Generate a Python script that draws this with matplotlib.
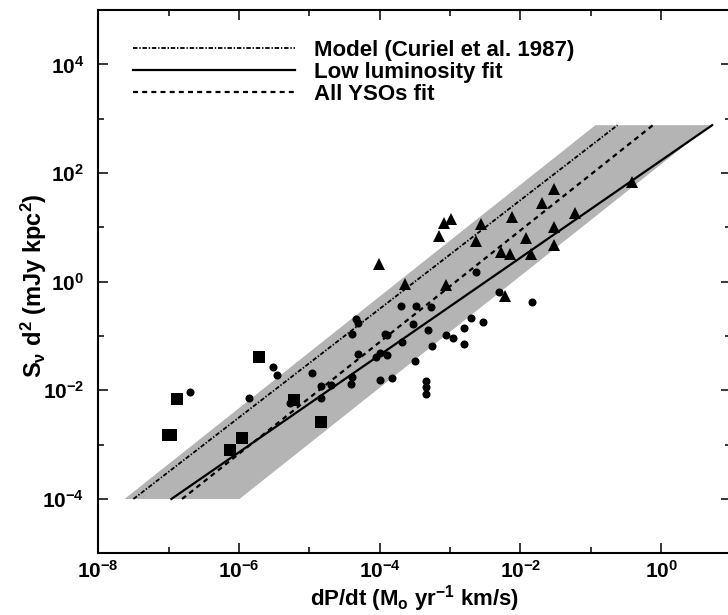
import numpy as np
import matplotlib
matplotlib.use('Agg')
import matplotlib.pyplot as plt
from matplotlib.ticker import FixedLocator, FuncFormatter, NullFormatter

# data, stored as log10 values
circle_logx = [-4.955, -4.827, -4.699, -4.827, -4.401, -4.392, -4.392, -4.339, -4.307, -4.307,
               -4.055, -3.999, -3.889, -3.999, -3.818, -3.918, -3.895, -3.700, -3.676, -3.526,
               -3.491, -3.487, -3.312, -3.274, -3.250, -3.345, -3.345, -3.345, -3.051, -2.957,
               -2.801, -2.801, -2.696, -2.531, -2.625, -2.304, -1.830, -6.697, -5.523, -5.466,
               -5.855, -5.277]
circle_logy = [-1.685, -1.919, -1.901, -2.134, -1.888, -1.753, -0.956, -0.691, -0.753, -1.335,
               -1.385, -1.306, -1.348, -1.814, -1.766, -0.956, -0.980, -0.446, -1.103, -0.772,
               -1.459, -0.446, -0.882, -0.464, -1.182, -1.827, -1.937, -2.061, -0.985, -1.029,
               -0.856, -1.140, -0.672, -0.735, 0.186, -0.182, -0.372, -2.029, -1.564, -1.716,
               -2.134, -2.238]

square_logx = [-5.717, -6.886, -7.003, -6.960, -5.955, -6.129, -5.220, -4.827]
square_logy = [-1.379, -2.153, -2.827, -2.827, -2.882, -3.098, -2.177, -2.576]

triangle_logx = [-4.009, -3.643, -3.061, -3.156, -3.089, -2.990, -2.554, -2.114, -1.523, -1.687,
                 -1.229, -0.409, -2.625, -1.925, -1.523, -2.270, -2.152, -1.854, -1.523, -2.223]
triangle_logy = [0.333, -0.046, -0.064, 0.843, 1.083, 1.157, 1.070, 1.193, 1.704, 1.457,
                 1.273, 1.843, 0.751, 0.801, 1.009, 0.554, 0.517, 0.506, 0.672, -0.262]

# fits: log S d^2 = a + b log dP/dt
model_fit = (3.5, 1.0)       # Curiel et al. 1987
lowlum_fit = (2.23, 0.895)
all_fit = (3.0, 1.028)
band_halfwidth = 0.84       # dex around the all-YSO fit
fit_logy_range = (-4.0, 2.88)

legend_labels = ['Model (Curiel et al. 1987)', 'Low luminosity fit', 'All YSOs fit']

plt.rcParams['font.family'] = ['Liberation Sans', 'DejaVu Sans']
plt.rcParams['font.weight'] = 'bold'
plt.rcParams['mathtext.fontset'] = 'custom'
plt.rcParams['mathtext.rm'] = 'Liberation Sans:bold'
plt.rcParams['mathtext.it'] = 'Liberation Sans:italic:bold'
plt.rcParams['mathtext.bf'] = 'Liberation Sans:bold'
plt.rcParams['mathtext.default'] = 'rm'
plt.rcParams['lines.scale_dashes'] = False


def fit_x(fit, logy):
    a, b = fit
    return 10 ** ((np.asarray(logy) - a) / b)


fig = plt.figure(figsize=(7.28, 6.15), dpi=100)
ax = fig.add_axes([0.1350, 0.1003, 0.8697, 0.8834])
ax.set_xscale('log')
ax.set_yscale('log')

# shaded band around the all-YSO fit
ylo, yhi = fit_logy_range
a, b = all_fit
upper = (a + band_halfwidth, b)
lower = (a - band_halfwidth, b)
band_x = [fit_x(upper, ylo), fit_x(lower, ylo), fit_x(lower, yhi), fit_x(upper, yhi)]
band_y = [10 ** ylo, 10 ** ylo, 10 ** yhi, 10 ** yhi]
ax.fill(band_x, band_y, color='#b4b4b4', lw=0, zorder=1)

yy = np.array(fit_logy_range)
ax.plot(fit_x(model_fit, yy), 10 ** yy, color='k', lw=1.3, dashes=(3.2, 1.3, 1.0, 1.3),
        label=legend_labels[0], zorder=2)
ax.plot(fit_x(lowlum_fit, yy), 10 ** yy, color='k', lw=1.6, ls='-',
        label=legend_labels[1], zorder=2)
ax.plot(fit_x(all_fit, yy), 10 ** yy, color='k', lw=1.6, dashes=(3.6, 3.0),
        label=legend_labels[2], zorder=2)

ax.plot(10 ** np.array(circle_logx), 10 ** np.array(circle_logy), 'o', color='k',
        ms=5.8, mew=0, zorder=3)
ax.plot(10 ** np.array(square_logx), 10 ** np.array(square_logy), 's', color='k',
        ms=8.4, mew=0, zorder=3)
ax.plot(10 ** np.array(triangle_logx), 10 ** np.array(triangle_logy), '^', color='k',
        ms=8.8, mew=0, zorder=3)

ax.set_xlim(1e-8, 1e1)
ax.set_ylim(1e-5, 1e5)
ax.xaxis.set_major_locator(FixedLocator(10.0 ** np.arange(-8, 1, 2)))
ax.xaxis.set_minor_locator(FixedLocator(10.0 ** np.arange(-7, 2, 2)))
ax.yaxis.set_major_locator(FixedLocator(10.0 ** np.arange(-4, 5, 2)))
ax.yaxis.set_minor_locator(FixedLocator(10.0 ** np.arange(-3, 4, 2)))
fmt = FuncFormatter(lambda v, p: r'$10^{%d}$' % int(round(np.log10(v))))
ax.xaxis.set_major_formatter(fmt)
ax.yaxis.set_major_formatter(fmt)
ax.xaxis.set_minor_formatter(NullFormatter())
ax.yaxis.set_minor_formatter(NullFormatter())
ax.tick_params(which='both', direction='in', top=True, right=True, width=1.1,
               labelsize=15)
ax.tick_params(which='major', length=7.5)
ax.tick_params(which='minor', length=4)
ax.tick_params(axis='x', pad=5)
ax.tick_params(axis='y', pad=10)
for s in ax.spines.values():
    s.set_linewidth(1.5)

ax.set_xlabel(r'dP/dt (M$_{\mathrm{o}}$ yr$^{-1}$ km/s)', fontsize=16, fontweight='bold')
ax.set_ylabel(r'S$_{\nu}$ d$^{2}$ (mJy kpc$^{2}$)', fontsize=17, fontweight='bold')
ax.xaxis.set_label_coords(0.5, -0.054)
ax.yaxis.set_label_coords(-0.078, 0.492)

ax.legend(loc='upper left', bbox_to_anchor=(0.055, 0.945), frameon=False, fontsize=16,
          handlelength=7.3, handletextpad=0.85, labelspacing=0.05, borderpad=0,
          borderaxespad=0)

fig.savefig('out.png', dpi=100)
